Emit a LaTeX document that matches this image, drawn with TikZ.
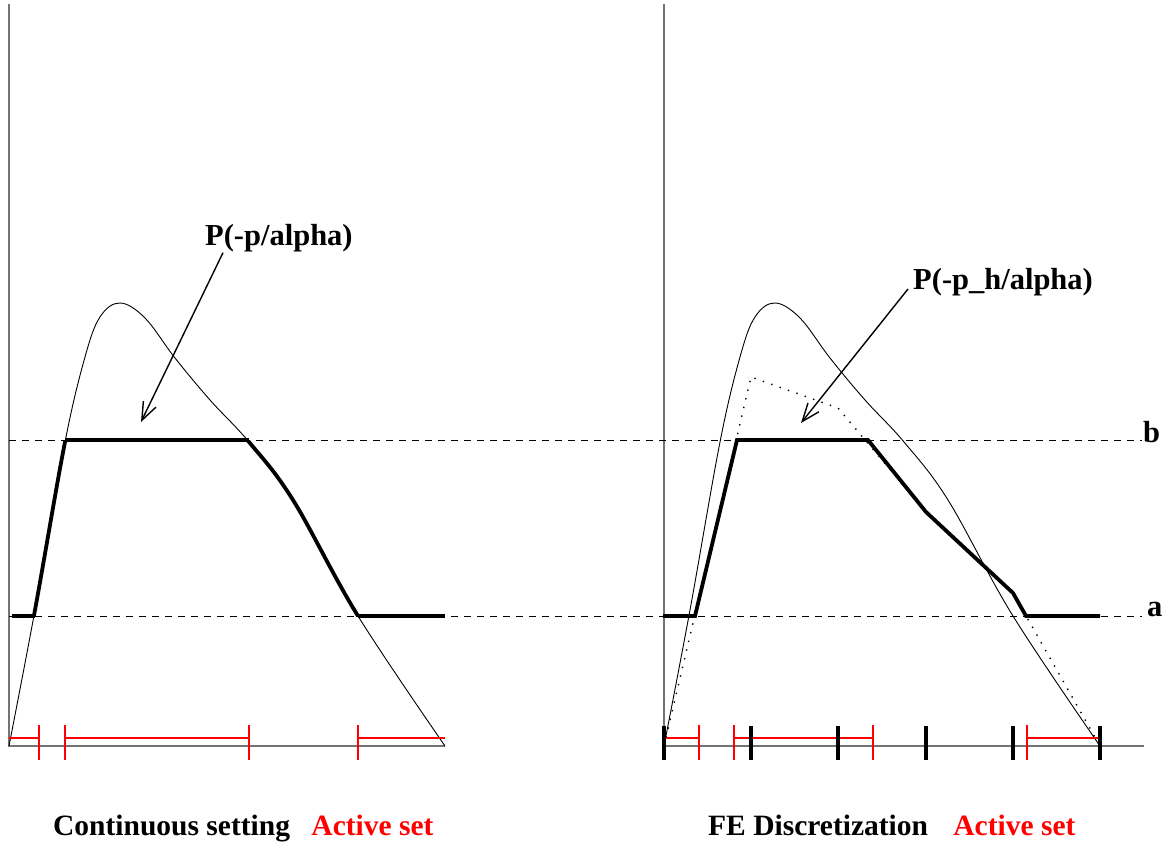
\documentclass[tikz,border=0pt]{standalone}
\usepackage{fontspec}
\setmainfont{Liberation Serif}
\usetikzlibrary{positioning,arrows.meta}

\begin{document}
\begin{tikzpicture}[x=1pt,y=-1pt,
  axis/.style={draw=black!55,line width=1.4pt},
  bound/.style={dash pattern=on 7pt off 6pt,line width=0.9pt},
  fcurve/.style={line width=0.9pt},
  proj/.style={line width=3.8pt},
  interp/.style={dash pattern=on 1.4pt off 7.5pt,line width=1.4pt},
  active/.style={red,line width=1.1pt},
  mesh/.style={line width=3.3pt},
  pointer/.style={line width=1.4pt,-{Straight Barb[length=18pt,width=14pt]}},
  lbl/.style={font=\bfseries\fontsize{30.5}{36}\selectfont,inner sep=0pt},
  captext/.style={font=\bfseries\fontsize{29.5}{36}\selectfont,inner sep=0pt},
]
\useasboundingbox (0,0) rectangle (1170,845);

% axes
\draw[axis] (9,4) -- (9,746) -- (445,746);
\draw[axis] (664,4) -- (664,746) -- (1144,746);

% bounds a and b
\draw[bound] (9,440) -- (1142,440);
\draw[bound] (9,616) -- (1142,616);
\node[lbl,anchor=base west] (blab) at (1143,442) {b};
\node[lbl,anchor=base west] (alab) at (1147,616) {a};

% the function, same in both panels
\foreach \sx in {0,655}
  \draw[fcurve,xshift=\sx] plot[smooth,tension=0.6] coordinates {(9,746) (35,610) (65,442) (85,357)
    (100,317) (120,303) (145,318) (175,358) (210,400) (249,442) (293,500) (358,616) (445,746)};

% continuous projection
\begin{scope}
\clip (0,440) rectangle (460,616);
\draw[proj] plot[smooth,tension=0.6] coordinates {(9,746) (35,610) (65,442) (85,357)
    (100,317) (120,303) (145,318) (175,358) (210,400) (249,442) (293,500) (358,616) (445,746)};
\end{scope}
\draw[proj] (12,616) -- (35,616);
\draw[proj] (65,440) -- (249,440);
\draw[proj] (358,616) -- (445,616);

% discrete interpolant and its projection
\draw[interp] (664,746) -- (751,377) -- (838,408) -- (926,512) -- (1013,593) -- (1100,746);
\draw[proj] (663,616) -- (695,616) -- (737,440) -- (868,440) -- (926,512) -- (1013,593)
  -- (1026,616) -- (1100,616);

% active sets
\foreach \ra/\rb in {9/39,65/249,358/445,664/699,734/873,1027/1100}
  \draw[active] (\ra,738) -- (\rb,738);
\foreach \rx in {39,65,249,358,699,734,873,1027}
  \draw[active] (\rx,725) -- (\rx,760);

% mesh nodes
\foreach \mx in {664,751,838,926,1013,1100}
  \draw[mesh] (\mx,726) -- (\mx,760);

% labels
\node[lbl,anchor=base west] (plab) at (205,246) {P(-p/alpha)};
\coordinate (ptip) at (141,422);
\draw[pointer] ([xshift=18pt]plab.south west) -- (ptip);

\node[lbl,anchor=base west] (phlab) at (913,289) {P(-p\_h/alpha)};
\coordinate (phtip) at (801,423);
\draw[pointer] ([xshift=-5pt]phlab.base west) -- (phtip);

\node[captext,anchor=base west] (cont) at (53,835) {Continuous setting};
\node[captext,red,right=21pt of cont.base east,anchor=base west] (act1) {Active set};
\node[captext,anchor=base west] (fe) at (708,835) {FE Discretization};
\node[captext,red,right=25pt of fe.base east,anchor=base west] (act2) {Active set};
\end{tikzpicture}
\end{document}
